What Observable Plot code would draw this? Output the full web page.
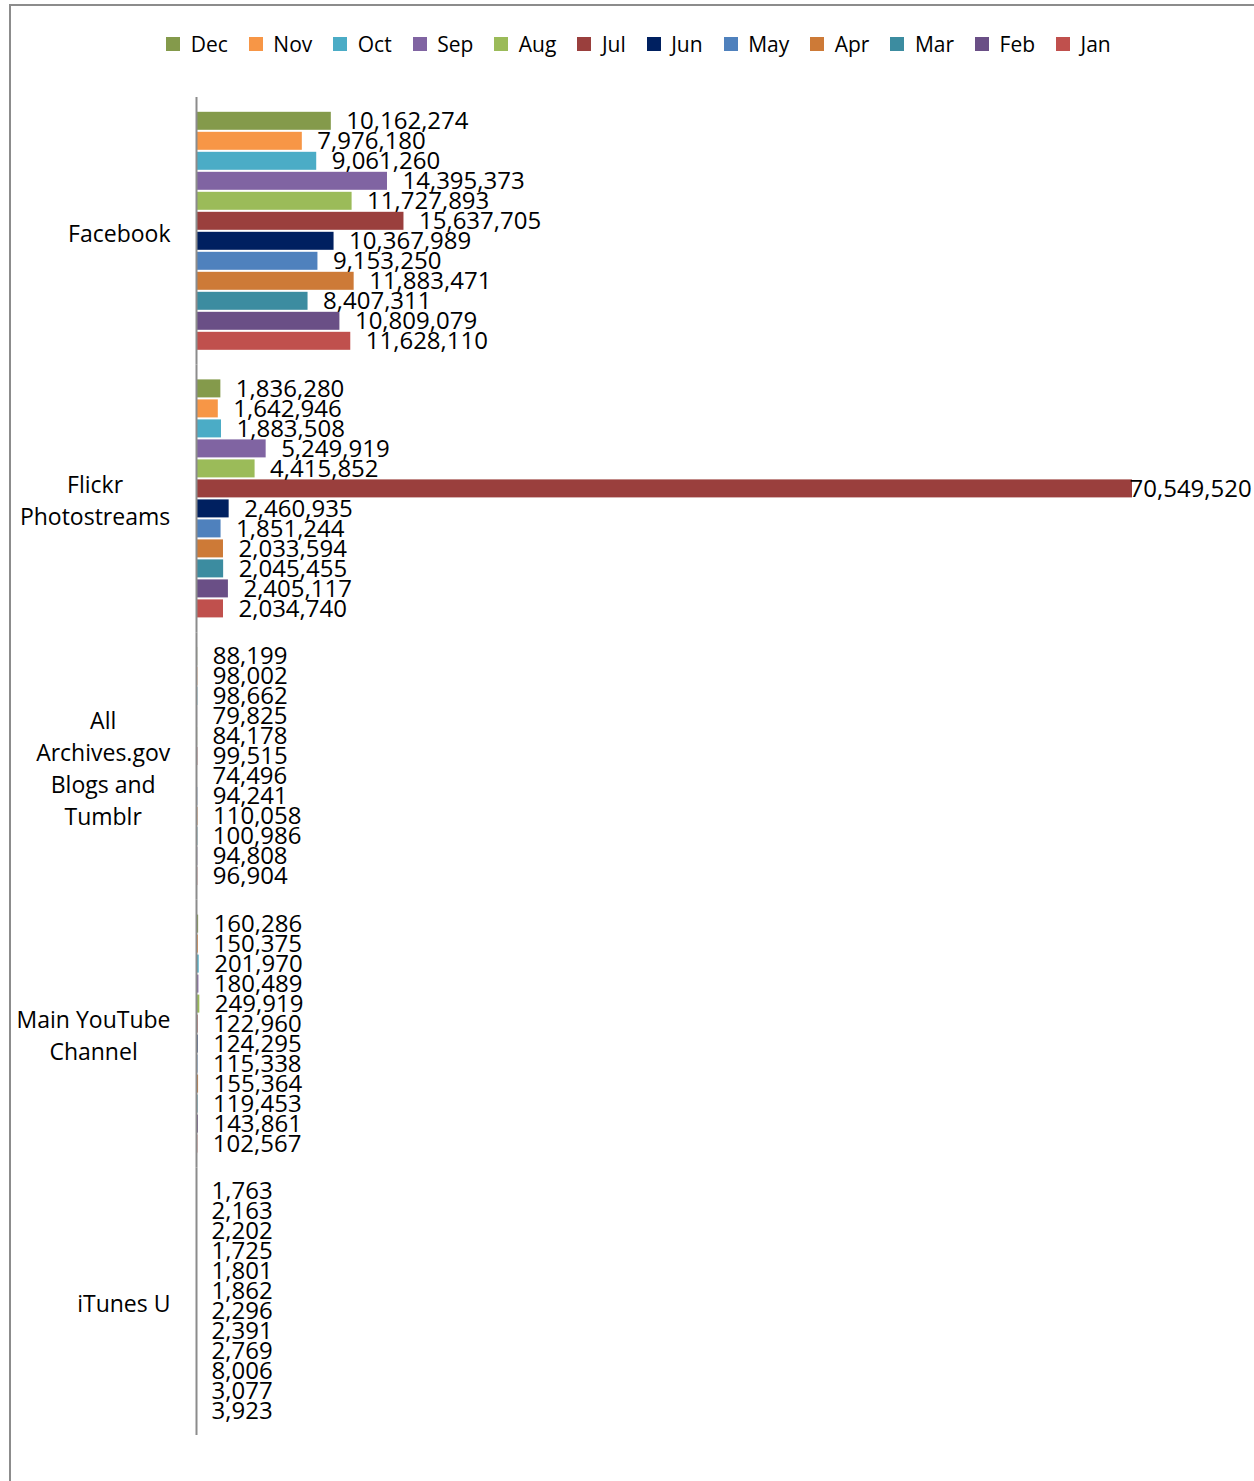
<!DOCTYPE html>
<html>
<head>
<meta charset="utf-8">
<script src="https://cdn.jsdelivr.net/npm/d3@7"></script>
<script src="https://cdn.jsdelivr.net/npm/@observablehq/plot@0.6"></script>
<style>
  html, body { margin: 0; padding: 0; background: #fff; }
  body { width: 1254px; height: 1481px; position: relative; overflow: hidden; font-family: "Open Sans", sans-serif; }
  #frame { position: absolute; left: 9px; top: 4px; width: 1300px; height: 1500px; border-left: 2px solid #8c8c8c; border-top: 2px solid #8c8c8c; }
  #legend { position: absolute; top: 27px; left: 22px; width: 1254px; }
  #chart { position: absolute; top: 70px; left: 0; }
</style>
</head>
<body>
<div id="frame"></div>
<div id="legend"></div>
<div id="chart"></div>
<script>
// ---- data ----
const categories = ["Facebook", "Flickr Photostreams", "All Archives.gov Blogs and Tumblr", "Main YouTube Channel", "iTunes U"];
const categoryLabels = ["Facebook", "Flickr\nPhotostreams", "All\nArchives.gov\nBlogs and\nTumblr", "Main YouTube\nChannel", "iTunes U"];
const months = ["Dec", "Nov", "Oct", "Sep", "Aug", "Jul", "Jun", "May", "Apr", "Mar", "Feb", "Jan"];
const monthColors = ["#849a4b", "#f79646", "#4bacc6", "#8064a2", "#9bbb59", "#9a3f3d", "#002060", "#4f81bd", "#cd7a37", "#3c8ca0", "#6a4f86", "#c0504d"];
// values listed Dec ... Jan
const facebook = [10162274, 7976180, 9061260, 14395373, 11727893, 15637705, 10367989, 9153250, 11883471, 8407311, 10809079, 11628110];
const flickr   = [1836280, 1642946, 1883508, 5249919, 4415852, 70549520, 2460935, 1851244, 2033594, 2045455, 2405117, 2034740];
const archives = [88199, 98002, 98662, 79825, 84178, 99515, 74496, 94241, 110058, 100986, 94808, 96904];
const youtube  = [160286, 150375, 201970, 180489, 249919, 122960, 124295, 115338, 155364, 119453, 143861, 102567];
const itunes   = [1763, 2163, 2202, 1725, 1801, 1862, 2296, 2391, 2769, 8006, 3077, 3923];

const series = [facebook, flickr, archives, youtube, itunes];
const data = [];
categories.forEach((c, i) => months.forEach((m, j) => data.push({category: c, month: m, value: series[i][j]})));
const maxValue = d3.max(data, d => d.value);
const fmt = d3.format(",");
const labelOf = new Map(categories.map((c, i) => [c, categoryLabels[i]]));

const font = "'Open Sans', sans-serif";

const legend = Plot.legend({
  color: {type: "ordinal", domain: months, range: monthColors},
  swatchSize: 14,
  style: {fontSize: "21px", fontFamily: font, color: "#000"}
});
legend.style.justifyContent = "center";
legend.style.marginLeft = "0";
document.getElementById("legend").appendChild(legend);

const chart = Plot.plot({
  width: 1254,
  height: 1411,
  marginTop: 27,
  marginBottom: 46,
  marginLeft: 196,
  marginRight: 122,
  style: {fontFamily: font, color: "#000", background: "transparent"},
  x: {domain: [0, maxValue], axis: null},
  y: {domain: months, axis: null, paddingInner: 0.1, paddingOuter: 0.74, round: false},
  fy: {domain: categories, axis: null, padding: 0, round: false},
  color: {domain: months, range: monthColors},
  marks: [
    Plot.barX(data, {fy: "category", y: "month", x: "value", fill: "month"}),
    Plot.ruleX([0], {stroke: "#8c8c8c", strokeWidth: 2}),
    Plot.text(data.filter(d => d.value < maxValue), {
      fy: "category", y: "month", x: "value", text: d => fmt(d.value),
      textAnchor: "start", dx: 15, fontSize: 24, fill: "#000"
    }),
    Plot.text(data.filter(d => d.value === maxValue), {
      fy: "category", y: "month", x: "value", text: d => fmt(d.value),
      textAnchor: "start", dx: -3, fontSize: 24, fill: "#000"
    }),
    Plot.text(categories, {
      fy: d => d, text: d => labelOf.get(d), frameAnchor: "left",
      textAnchor: "end", dx: -26, fontSize: 23, lineHeight: 1.4, fill: "#000", className: "catlabel"
    })
  ]
});
document.getElementById("chart").appendChild(chart);

// center each line of the multi-line category labels (Excel style), right edge kept fixed
chart.querySelectorAll(".catlabel text").forEach(t => {
  const w = t.getBBox().width;
  t.setAttribute("text-anchor", "middle");
  const tspans = t.querySelectorAll("tspan");
  if (tspans.length) tspans.forEach(s => s.setAttribute("x", -w / 2));
  else t.setAttribute("x", (+t.getAttribute("x") || 0) - w / 2);
});
</script>
</body>
</html>
